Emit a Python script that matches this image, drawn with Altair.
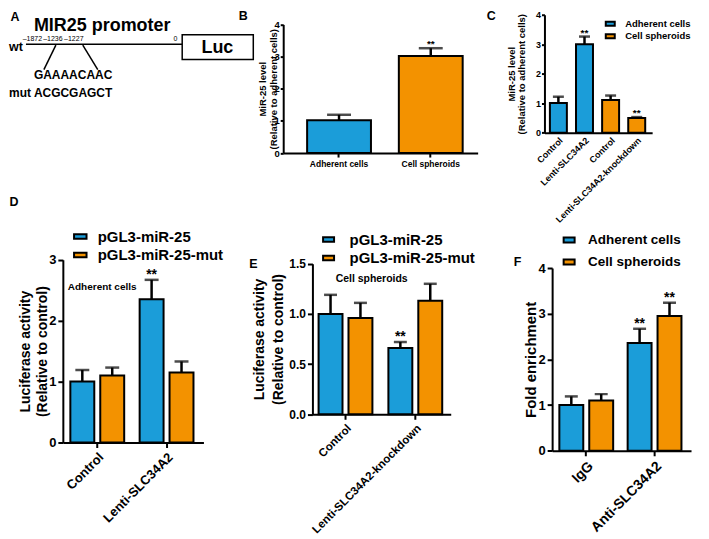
import altair as alt
import pandas as pd

BLUE = "#1B9DD9"
ORANGE = "#F39200"
FONT = "Liberation Sans"
W, HT, HB = 231, 184, 339
DY = 2  # vertical nudge of the bottom row

# ---------------- data ----------------
# A: MIR25 promoter schematic
a_title = "MIR25 promoter"
a_sites = ["\u20131872", "\u20131236", "\u20131227", "0"]
a_wt_seq = "GAAAACAAC"
a_mut_seq = "ACGCGAGCT"

# B
b_cells = ["Adherent cells", "Cell spheroids"]
b_mean = [1.02, 3.02]
b_err = [0.17, 0.24]
b_sig = ["", "**"]

# C
c_labels = ["Control", "Lenti-SLC34A2", "Control", "Lenti-SLC34A2-knockdown"]
c_cells = ["Adherent cells", "Adherent cells", "Cell spheroids", "Cell spheroids"]
c_mean = [1.01, 3.00, 1.11, 0.50]
c_err = [0.21, 0.26, 0.15, 0.03]
c_sig = ["", "**", "", "**"]

# D
d_groups = ["Control", "Lenti-SLC34A2"]
d_series = ["pGL3-miR-25", "pGL3-miR-25-mut"]
d_mean = {"pGL3-miR-25": [1.00, 2.35], "pGL3-miR-25-mut": [1.10, 1.15]}
d_err = {"pGL3-miR-25": [0.19, 0.32], "pGL3-miR-25-mut": [0.13, 0.18]}
d_sig = {"pGL3-miR-25": ["", "**"], "pGL3-miR-25-mut": ["", ""]}

# E
e_groups = ["Control", "Lenti-SLC34A2-knockdown"]
e_series = ["pGL3-miR-25", "pGL3-miR-25-mut"]
e_mean = {"pGL3-miR-25": [1.00, 0.66], "pGL3-miR-25-mut": [0.96, 1.13]}
e_err = {"pGL3-miR-25": [0.19, 0.06], "pGL3-miR-25-mut": [0.15, 0.17]}
e_sig = {"pGL3-miR-25": ["", "**"], "pGL3-miR-25-mut": ["", ""]}

# F
f_groups = ["IgG", "Anti-SLC34A2"]
f_series = ["Adherent cells", "Cell spheroids"]
f_mean = {"Adherent cells": [1.00, 2.36], "Cell spheroids": [1.10, 2.95]}
f_err = {"Adherent cells": [0.19, 0.31], "Cell spheroids": [0.14, 0.29]}
f_sig = {"Adherent cells": ["", "**"], "Cell spheroids": ["", "**"]}


def grouped(groups, series, means, errs, sigs):
    rows = []
    for s in series:
        for g, m, e, z in zip(groups, means[s], errs[s], sigs[s]):
            rows.append({"group": g, "series": s, "mean": m, "upper": m + e, "sig": z})
    return pd.DataFrame(rows)


ONE = pd.DataFrame({"k": [0]})


def label(text, x, y, size, align="center", weight="bold", baseline="middle"):
    return alt.Chart(ONE).mark_text(
        text=text, font=FONT, fontSize=size, fontWeight=weight, color="black",
        align=align, baseline=baseline,
    ).encode(x=alt.value(x), y=alt.value(y))


def seg(x1, y1, x2, y2, w=1.5):
    return alt.Chart(ONE).mark_rule(color="black", strokeWidth=w).encode(
        x=alt.value(x1), y=alt.value(y1), x2=alt.value(x2), y2=alt.value(y2))


# ---------------- panel A ----------------
luc_box = alt.Chart(ONE).mark_rect(fill="white", stroke="black", strokeWidth=1.5).encode(
    x=alt.value(173.7), x2=alt.value(245), y=alt.value(25), y2=alt.value(50))
site_x = [23.5, 44, 65, 167]
panelA = alt.layer(
    label("A", 6, 1, 12.5, baseline="top"),
    label(a_title, 25, 16.5, 18, align="left"),
    label("wt", 0, 37, 12.5, align="left"),
    seg(17, 34.7, 173.7, 34.7),
    *[label(t, x, 29.5, 7, weight="normal") for t, x in zip(a_sites, site_x)],
    luc_box,
    label("Luc", 209, 38, 18),
    seg(47, 35.5, 35, 60),
    seg(74, 35.5, 89, 60),
    label(a_wt_seq, 25, 65.5, 12, align="left"),
    label("mut", 0, 83, 12, align="left"),
    label(a_mut_seq, 25, 83, 12, align="left"),
).properties(width=W, height=HT)


# ---------------- panel B ----------------
dfB = pd.DataFrame({"cell": b_cells, "mean": b_mean,
                    "upper": [m + e for m, e in zip(b_mean, b_err)], "sig": b_sig})
xB = alt.X("cell:N", scale=alt.Scale(domain=b_cells, range=[44, 239], paddingInner=0.304,
                                      paddingOuter=0.212, align=0.615),
           axis=alt.Axis(title=None, labelAngle=0, labelFontSize=8.5, offset=-(HT - 143.7),
                         tickSize=4, labelPadding=2))
yax_B = alt.Axis(values=[0, 1, 2, 3, 4], offset=-44, title=["MiR-25 level", "(Relative to adherent cells)"],
                 titleX=-15.5, titleAngle=270, titleBaseline="bottom", titleFontSize=9.5, titleLineHeight=10.5,
                 labelFontSize=9.5, tickSize=3, labelPadding=1)
scB = alt.Scale(domain=[0, 4], range=[143.7, 14.7], nice=False)
colB = alt.Color("cell:N", scale=alt.Scale(domain=b_cells, range=[BLUE, ORANGE]), legend=None)
baseB = alt.Chart(dfB)
panelB = alt.layer(
    baseB.mark_bar(stroke="black", strokeWidth=2).encode(x=xB, y=alt.Y("mean:Q", scale=scB, axis=yax_B), color=colB),
    baseB.mark_rule(color="black", strokeWidth=2.5).encode(x=xB, y=alt.Y("mean:Q", scale=scB, axis=yax_B), y2="upper:Q"),
    baseB.mark_tick(color="black", thickness=2.5, size=24).encode(x=xB, y=alt.Y("upper:Q", scale=scB, axis=yax_B)),
    baseB.mark_text(font=FONT, fontSize=10, fontWeight="bold", baseline="alphabetic", dy=-1, color="black").encode(
        x=xB, y=alt.Y("upper:Q", scale=scB, axis=yax_B), text="sig:N"),
    label("B", 4, 0.5, 12.5, baseline="top"),
).properties(width=W, height=HT)


# ---------------- panel C ----------------
c_keys = [f"{i}|{t}" for i, t in enumerate(c_labels)]
dfC = pd.DataFrame({"key": c_keys, "cell": c_cells, "mean": c_mean,
                    "upper": [m + e for m, e in zip(c_mean, c_err)], "sig": c_sig})
xC = alt.X("key:N", scale=alt.Scale(domain=c_keys, range=[75, 183], paddingInner=0.35,
                                     paddingOuter=0.237, align=0.44),
           axis=alt.Axis(title=None, labelAngle=-45, labelFontSize=9, offset=-(HT - 123.3),
                         tickSize=0, labelPadding=3, labelExpr="split(datum.label, '|')[1]"))
yax_C = alt.Axis(values=[0, 1, 2, 3, 4], offset=-75, title=["MiR-25 level", "(Relative to adherent cells)"],
                 titleX=-27.9, titleAngle=270, titleBaseline="bottom", titleFontSize=9.5, titleLineHeight=10,
                 labelFontSize=9, tickSize=3, labelPadding=1)
scC = alt.Scale(domain=[0, 4], range=[123.3, 5], nice=False)
legC = alt.Legend(orient="none", legendX=135, legendY=8, title=None,
                  symbolType="M-0.9,-0.4H0.9V0.4H-0.9Z", symbolSize=100, symbolStrokeColor="black",
                  symbolStrokeWidth=2, labelFont=FONT, labelFontSize=9.5, labelFontWeight="bold",
                  labelColor="black", labelOffset=9, rowPadding=0.5, padding=0, symbolOpacity=1)
colC = alt.Color("cell:N", scale=alt.Scale(domain=b_cells, range=[BLUE, ORANGE]), legend=legC)
baseC = alt.Chart(dfC)
panelC = alt.layer(
    baseC.mark_bar(stroke="black", strokeWidth=2).encode(x=xC, y=alt.Y("mean:Q", scale=scC, axis=yax_C), color=colC),
    baseC.mark_rule(color="black", strokeWidth=2.5).encode(x=xC, y=alt.Y("mean:Q", scale=scC, axis=yax_C), y2="upper:Q"),
    baseC.mark_tick(color="black", thickness=2.5, size=11).encode(x=xC, y=alt.Y("upper:Q", scale=scC, axis=yax_C)),
    baseC.mark_text(font=FONT, fontSize=10, fontWeight="bold", baseline="alphabetic", dy=-1, color="black").encode(
        x=xC, y=alt.Y("upper:Q", scale=scC, axis=yax_C), text="sig:N"),
    label("C", 21.7, 0.5, 12.5, baseline="top"),
).properties(width=W, height=HT)


# ---------------- grouped panels ----------------
def grouped_panel(df, groups, series, xrange, pi, po, al, ydom, yrange, yvals, yfmt, yoff,
                  ytitle, titleX, titleSize, titleLH, ytickSize, xlabSize, legend, capw, extras):
    y0 = yrange[0]
    xs = alt.X("group:N", scale=alt.Scale(domain=groups, range=xrange, paddingInner=pi,
                                          paddingOuter=po, align=al),
               axis=alt.Axis(title=None, labelAngle=-45, labelFontSize=xlabSize, offset=-(HB - y0),
                             tickSize=5, labelPadding=3))
    xo = alt.XOffset("series:N", scale=alt.Scale(domain=series, paddingInner=0.2, paddingOuter=0))
    yax = alt.Axis(values=yvals, format=yfmt, offset=-yoff, title=ytitle, titleX=titleX, titleAngle=270,
                   titleBaseline="bottom", titleFontSize=titleSize, titleLineHeight=titleLH,
                   labelFontSize=ytickSize, tickSize=5, labelPadding=2)
    sc = alt.Scale(domain=ydom, range=yrange, nice=False)
    col = alt.Color("series:N", scale=alt.Scale(domain=series, range=[BLUE, ORANGE]), legend=legend)
    base = alt.Chart(df)
    return alt.layer(
        base.mark_bar(stroke="black", strokeWidth=2).encode(x=xs, xOffset=xo, y=alt.Y("mean:Q", scale=sc, axis=yax), color=col),
        base.mark_rule(color="black", strokeWidth=2.5).encode(x=xs, xOffset=xo, y=alt.Y("mean:Q", scale=sc, axis=yax), y2="upper:Q"),
        base.mark_tick(color="black", thickness=2.5, size=capw).encode(x=xs, xOffset=xo, y=alt.Y("upper:Q", scale=sc, axis=yax)),
        base.mark_text(font=FONT, fontSize=14, fontWeight="bold", baseline="alphabetic", dy=-1, color="black").encode(
            x=xs, xOffset=xo, y=alt.Y("upper:Q", scale=sc, axis=yax), text="sig:N"),
        *extras,
    ).properties(width=W, height=HB)


def big_legend(x, y, path, font, offset, rowpad):
    return alt.Legend(orient="none", legendX=x, legendY=y + DY, title=None, symbolType=path, symbolSize=100,
                      symbolStrokeColor="black", symbolStrokeWidth=2, labelFont=FONT, labelFontSize=font,
                      labelFontWeight="bold", labelColor="black", labelOffset=offset, rowPadding=rowpad,
                      padding=0, symbolOpacity=1, labelLimit=0)


dfD = grouped(d_groups, d_series, d_mean, d_err, d_sig)
panelD = grouped_panel(
    dfD, d_groups, d_series, [54, 195], 0.223, 0.126, 0.43, [0, 3], [248 + DY, 64.7 + DY], [0, 1, 2, 3], "d",
    54, ["Luciferase activity", "(Relative to control)"], -30, 14, 17, 13, 13,
    big_legend(64, 34, "M-1.25,-0.45H1.25V0.45H-1.25Z", 15, 10, 2.5), 14,
    [label("D", 5, 0.5 + DY, 12.5, baseline="top"), label("Adherent cells", 59, 92 + DY, 10, align="left")],
)

dfE = grouped(e_groups, e_series, e_mean, e_err, e_sig)
panelE = grouped_panel(
    dfE, e_groups, e_series, [73.3, 212], 0.229, 0.105, 0.42, [0, 1.5], [219.7 + DY, 68.7 + DY],
    [0, 0.5, 1.0, 1.5], ".1f",
    73.3, ["Luciferase activity", "(Relative to control)"], -46.3, 14, 19, 12, 11.5,
    big_legend(82, 37, "M-1.1,-0.45H1.1V0.45H-1.1Z", 15, 13.5, 2.5), 13,
    [label("E", 14, 68.7 + DY, 12.5), label("Cell spheroids", 132.7, 83.7 + DY, 10.5)],
)

dfF = grouped(f_groups, f_series, f_mean, f_err, f_sig)
panelF = grouped_panel(
    dfF, f_groups, f_series, [82.7, 222], 0.212, 0.123, 0.43, [0, 4], [256.3 + DY, 73 + DY], [0, 1, 2, 3, 4], "d",
    82.7, "Fold enrichment", -14, 15, 17, 13, 14,
    big_legend(93, 38.25, "M-1.1,-0.5H1.1V0.5H-1.1Z", 13.5, 12.25, 7), 13,
    [label("F", 48, 67 + DY, 12.5)],
)

chart = alt.concat(
    panelA, panelB, panelC, panelD, panelE, panelF, columns=3, spacing=0, bounds="flush",
).resolve_scale(color="independent", x="independent", y="independent", xOffset="independent").properties(
    padding=0,
).configure_view(stroke="transparent").configure_axis(
    domainColor="black", domainWidth=2, tickColor="black", tickWidth=2, labelColor="black",
    labelFont=FONT, labelFontWeight="bold", titleFont=FONT, titleFontWeight="bold", titleColor="black",
    grid=False,
).configure_legend(symbolOpacity=1)

chart.save("out.html", embed_options={"renderer": "svg", "actions": False})
